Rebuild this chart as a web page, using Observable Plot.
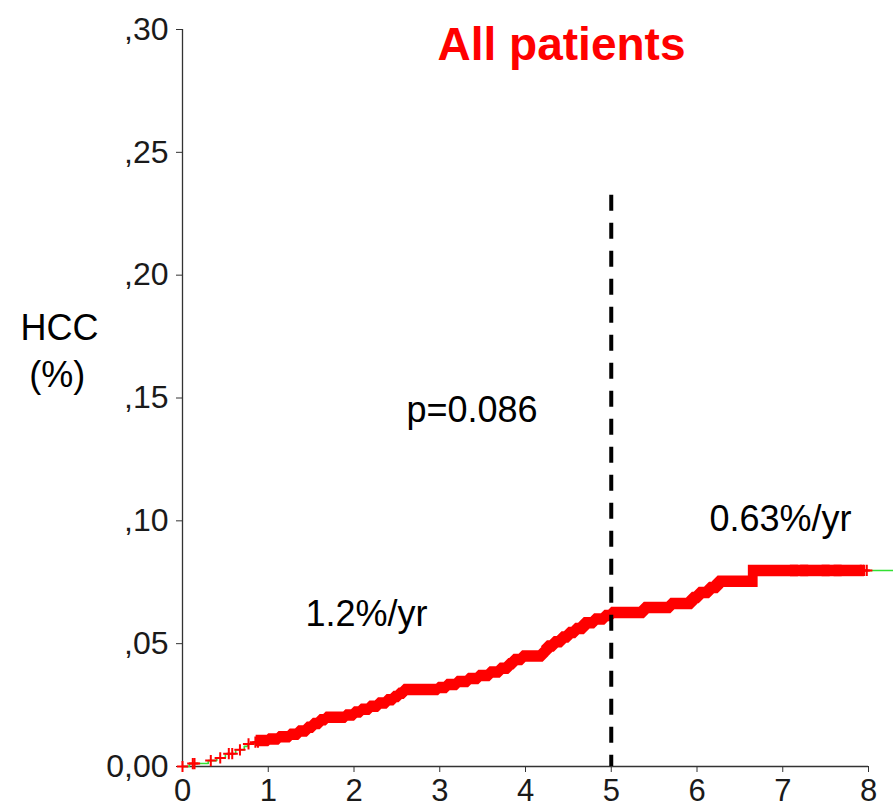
<!DOCTYPE html>
<html><head><meta charset="utf-8">
<script src="https://cdn.jsdelivr.net/npm/d3@7"></script>
<script src="https://cdn.jsdelivr.net/npm/@observablehq/plot@0.6"></script>
<style>body{margin:0;background:#fff}</style>
</head><body><div id="chart"></div>
<script>
// Kaplan-Meier style cumulative HCC incidence (event steps)
const stepTimes  = [0, 0.08, 0.30, 0.40, 0.50, 0.62, 0.72, 0.76, 0.84, 0.92, 1.00, 1.12, 1.25, 1.35, 1.45, 1.52, 1.60, 1.67, 1.90, 2.00, 2.08, 2.18, 2.28, 2.38, 2.46, 2.52, 2.58, 2.98, 3.08, 3.20, 3.33, 3.45, 3.58, 3.70, 3.80, 3.86, 3.96, 4.20, 4.25, 4.33, 4.42, 4.50, 4.58, 4.68, 4.80, 4.92, 5.00, 5.38, 5.69, 5.94, 6.02, 6.14, 6.24, 6.65];
const stepValues = [0, 0.0012, 0.0024, 0.0035, 0.0052, 0.0068, 0.0082, 0.0092, 0.0099, 0.0106, 0.0112, 0.0121, 0.0131, 0.0145, 0.0160, 0.0175, 0.0190, 0.0200, 0.0210, 0.0222, 0.0233, 0.0245, 0.0258, 0.0272, 0.0285, 0.0298, 0.0313, 0.0322, 0.0334, 0.0346, 0.0358, 0.0370, 0.0385, 0.0400, 0.0418, 0.0436, 0.0450, 0.0468, 0.0490, 0.0508, 0.0527, 0.0545, 0.0562, 0.0585, 0.0600, 0.0615, 0.0627, 0.0647, 0.0664, 0.0688, 0.0708, 0.0729, 0.0754, 0.0798];
const curveEnd = 8.29;             // last follow-up time drawn by the line
// sparse censoring marks (+)
const censorTimes = [0, 0.12, 0.14, 0.33, 0.44, 0.54, 0.58, 0.67, 0.77, 0.85, 0.88, 7.91, 7.95, 7.98];
// runs of time where censoring marks are so dense they merge into a solid band
const bandStarts = [0.92, 6.66, 7.15, 7.27, 7.52, 7.66];
const bandEnds   = [6.64, 7.11, 7.23, 7.48, 7.62, 7.88];
const xTicks = [0, 1, 2, 3, 4, 5, 6, 7, 8];
const yTicks = [0, 0.05, 0.10, 0.15, 0.20, 0.25, 0.30];
const yTickLabels = ["0,00", ",05", ",10", ",15", ",20", ",25", ",30"];
const cutTime = 5;
const cutTop = 0.2325;

const valueAt = t => stepValues[d3.bisectRight(stepTimes, t) - 1];
const curve = stepTimes.map((t, i) => ({t, v: stepValues[i]}))
  .concat([{t: curveEnd, v: stepValues[stepValues.length - 1]}]);
const band = [];
bandStarts.forEach((a, k) => {
  const b = bandEnds[k];
  band.push({t: a, v: valueAt(a), k});
  stepTimes.forEach((t, i) => { if (t > a && t < b) band.push({t, v: stepValues[i], k}); });
  band.push({t: b, v: valueAt(b), k});
});
const censors = censorTimes.map(t => ({t, v: valueAt(t)}));

const font = "Liberation Sans, Arial, Helvetica, sans-serif";
const chart = Plot.plot({
  width: 893, height: 808,
  marginLeft: 182, marginRight: 25, marginTop: 29, marginBottom: 42,
  x: {domain: [0, 8]},
  y: {domain: [0, 0.3]},
  style: {fontFamily: font, fontSize: "31px", color: "#1a1a1a", background: "white"},
  marks: [
    Plot.axisX({ticks: xTicks, tickSize: 6, tickPadding: 6, label: null, fontSize: 31, stroke: "#333"}),
    Plot.axisY({ticks: yTicks, tickSize: 6, tickPadding: 8, label: null, fontSize: 32, stroke: "#333",
      tickFormat: d => yTickLabels[yTicks.findIndex(v => Math.abs(v - d) < 1e-9)]}),
    Plot.ruleX([0], {y1: 0, y2: 0.3, stroke: "#333", strokeWidth: 1.3}),
    Plot.ruleY([0], {x1: 0, x2: 8, stroke: "#333", strokeWidth: 1.3}),
    Plot.line(curve, {x: "t", y: "v", curve: "step-after", stroke: "#33e033", strokeWidth: 1.6}),
    Plot.line(band, {x: "t", y: "v", z: "k", curve: "step-after", stroke: "#ff0000", strokeWidth: 11.5,
      strokeLinecap: "square", strokeLinejoin: "miter"}),
    Plot.dot(censors, {x: "t", y: "v", symbol: "plus", r: 3.7, stroke: "#ff0000", strokeWidth: 2}),
    Plot.ruleX([cutTime], {y1: cutTop, y2: 0, stroke: "black", strokeWidth: 4, strokeDasharray: "16 12"}),
    Plot.text(["All patients"], {x: 4.42, y: 0.2875, text: d => d, fill: "#ff0000", fontSize: 46, fontWeight: "bold", lineAnchor: "bottom", textAnchor: "middle"}),
    Plot.text(["HCC"], {x: -1.434, y: 0.1738, text: d => d, fill: "black", fontSize: 36, lineAnchor: "bottom", textAnchor: "middle"}),
    Plot.text(["(%)"], {x: -1.46, y: 0.1543, text: d => d, fill: "black", fontSize: 36, lineAnchor: "bottom", textAnchor: "middle"}),
    Plot.text(["p=0.086"], {x: 3.376, y: 0.1404, text: d => d, fill: "black", fontSize: 36, lineAnchor: "bottom", textAnchor: "middle"}),
    Plot.text(["1.2%/yr"], {x: 2.146, y: 0.0570, text: d => d, fill: "black", fontSize: 36, lineAnchor: "bottom", textAnchor: "middle"}),
    Plot.text(["0.63%/yr"], {x: 6.974, y: 0.0957, text: d => d, fill: "black", fontSize: 36, lineAnchor: "bottom", textAnchor: "middle"})
  ]
});
document.getElementById("chart").appendChild(chart);
</script>
</body></html>
